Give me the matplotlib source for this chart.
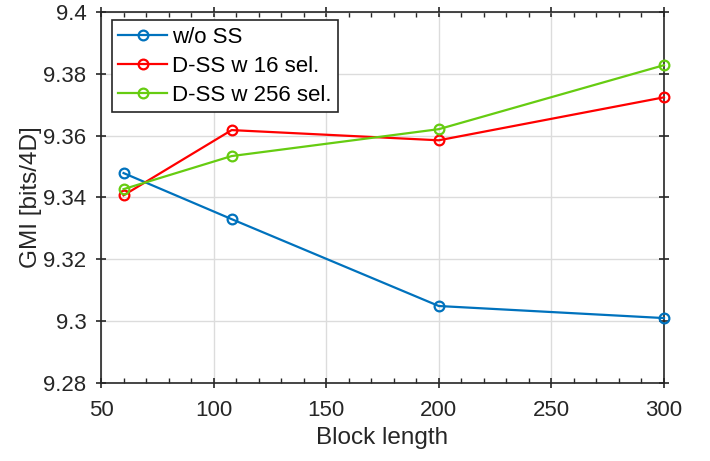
import numpy as np
import matplotlib
matplotlib.use("Agg")
import matplotlib.pyplot as plt
from matplotlib.ticker import MultipleLocator

plt.rcParams['font.family'] = ['Liberation Sans', 'DejaVu Sans']

# ブロック長ごとのGMI
block_len = [60, 108, 200, 300]
gmi_wo_ss = [9.3479, 9.3330, 9.3049, 9.3010]
gmi_dss_16 = [9.3407, 9.3618, 9.3585, 9.3724]
gmi_dss_256 = [9.3427, 9.3534, 9.3621, 9.3828]

labels = ['w/o SS', 'D-SS w 16 sel.', 'D-SS w 256 sel.']
colors = ['#0072BD', '#FF0000', '#66CC11']

x_ticks = [50, 100, 150, 200, 250, 300]
y_ticks = [9.28, 9.3, 9.32, 9.34, 9.36, 9.38, 9.4]
y_ticklabels = ['9.28', '9.3', '9.32', '9.34', '9.36', '9.38', '9.4']

fig = plt.figure(figsize=(7.1, 4.61), dpi=100)
ax = fig.add_axes([0.1423, 0.1692, 0.7929, 0.8048])

for ys, lab, c in zip([gmi_wo_ss, gmi_dss_16, gmi_dss_256], labels, colors):
    ax.plot(block_len, ys, '-o', color=c, lw=1.6, ms=7, mfc='none', mew=1.6,
            label=lab, clip_on=False, zorder=3)

ax.set_xlim(50, 300)
ax.set_ylim(9.28, 9.4)
ax.set_xticks(x_ticks)
ax.set_yticks(y_ticks)
ax.set_yticklabels(y_ticklabels)
ax.xaxis.set_minor_locator(MultipleLocator(10))

ax.grid(True, which='major', color='#dcdcdc', lw=1.0)
ax.set_axisbelow(True)

for s in ax.spines.values():
    s.set_color('#262626')
    s.set_linewidth(1.2)

ax.tick_params(which='major', direction='inout', length=7, width=1.2,
               top=True, right=True, labelsize=16, colors='#262626',
               labelcolor='#262626')
ax.tick_params(axis='y', which='major', pad=7)
ax.tick_params(axis='x', which='major', pad=9)
ax.tick_params(axis='x', which='minor', direction='in', length=3.5, width=1.0,
               top=True, bottom=True, colors='#262626')
ax.tick_params(axis='y', which='minor', left=False, right=False)

ax.set_xlabel('Block length', fontsize=17.5, color='#262626', labelpad=4)
ax.set_ylabel('GMI [bits/4D]', fontsize=17.5, color='#262626', labelpad=1)

leg = ax.legend(loc='upper left', bbox_to_anchor=(0.019, 0.978), fontsize=16,
                frameon=True, fancybox=False, borderpad=0.3, labelspacing=0.36,
                handlelength=2.2, handletextpad=0.2, borderaxespad=0)
leg.get_frame().set_edgecolor('#262626')
leg.get_frame().set_linewidth(1.2)
leg.get_frame().set_alpha(1)

fig.savefig('out.png', dpi=100)
